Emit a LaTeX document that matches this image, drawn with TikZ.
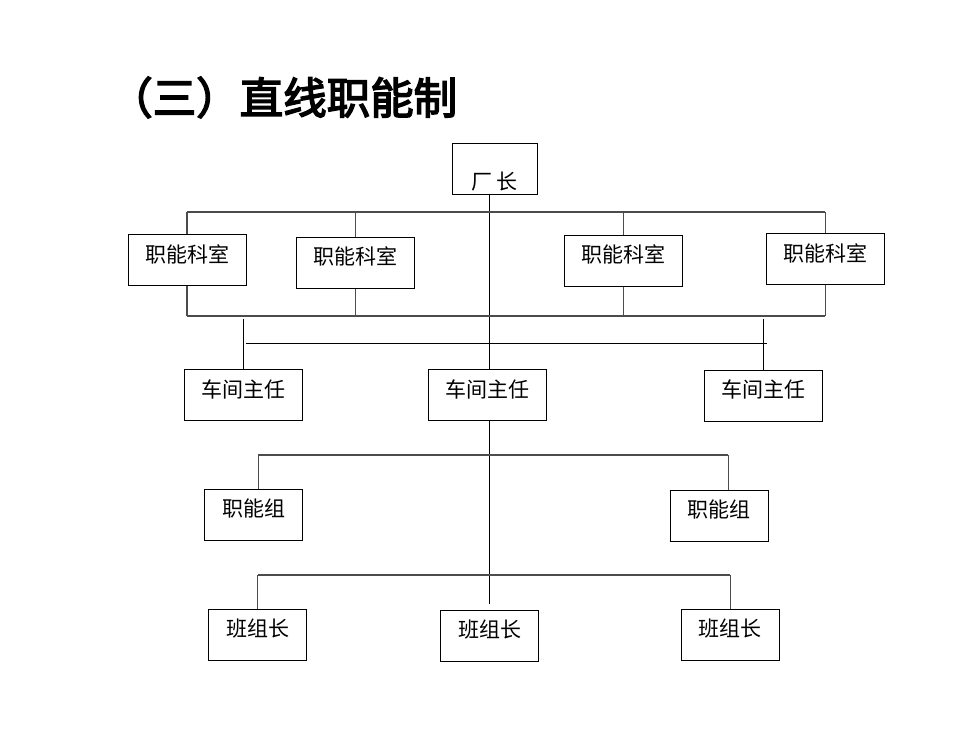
\documentclass[tikz,border=0pt]{standalone}
\usepackage{fontspec}
\newfontfamily\cjkfont{Noto Sans CJK SC}
\newfontfamily\titlefont[FakeBold=3.5]{Noto Sans CJK SC}

\tikzset{
  unit/.style={draw, line width=1pt, inner sep=0pt, minimum height=51pt,
    text height=14pt, text depth=10pt, font=\cjkfont\fontsize{21}{21}\selectfont},
  bus/.style={line width=1.1pt, draw=black!70},
  stem/.style={line width=1pt, draw=black},
}

\begin{document}
\begin{tikzpicture}[x=1pt,y=-1pt]

    % --- Page frame ---
    \useasboundingbox (0,0) rectangle (980,735);

    % --- Title ---
    \node[anchor=base west, inner sep=0pt, font=\titlefont\fontsize{43.5}{43.5}\selectfont] (title) at (109,114) {（三）直线职能制};

    % --- Define Coordinates ---
    % spine is the x of the main vertical line
    \coordinate (spine) at (489.3,195);
    \coordinate (spineEnd) at (489.3,604);

    % levels of the horizontal lines
    \coordinate (busA) at (0,212);
    \coordinate (busB) at (0,316);
    \coordinate (feed) at (0,319.5);
    \coordinate (cross) at (0,343.3);
    \coordinate (grpL) at (258.3,455);
    \coordinate (grpR) at (728.3,455);
    \coordinate (teamBus) at (0,575);

    % --- Place Boxes ---

    % Director at the top
    \node[unit, minimum width=85pt, text height=40pt, text depth=0pt] (head) at (494.5,169.5) {厂 长};

    % Functional offices
    \node[unit, minimum width=118pt] (office1) at (187,260.5) {职能科室};
    \node[unit, minimum width=118pt] (office2) at (355.2,262.8) {职能科室};
    \node[unit, minimum width=118pt] (office3) at (623.3,260.7) {职能科室};
    \node[unit, minimum width=118pt] (office4) at (825.2,259.2) {职能科室};

    % Workshop heads
    \node[unit, minimum width=118pt] (shop1) at (243.9,395) {车间主任};
    \node[unit, minimum width=118pt] (shop2) at (487,395.2) {车间主任};
    \node[unit, minimum width=118pt] (shop3) at (763.3,395.5) {车间主任};

    % Functional groups
    \node[unit, minimum width=98pt] (group1) at (253.5,514.7) {职能组};
    \node[unit, minimum width=98pt] (group2) at (719.2,515.8) {职能组};

    % Team leaders
    \node[unit, minimum width=98pt] (team1) at (257.5,634.7) {班组长};
    \node[unit, minimum width=98pt] (team2) at (489.7,635.5) {班组长};
    \node[unit, minimum width=98pt] (team3) at (730.3,634.7) {班组长};

    % --- Draw Lines ---

    % Main vertical line
    \draw[stem] (spine |- head.south) -- (spine |- shop2.north);
    \draw[stem] (spine |- shop2.south) -- (spineEnd);

    % Bus above and below the offices
    \draw[bus] (office1.north |- busA) -- (office4.north |- busA);
    \draw[bus] (office1.south |- busB) -- (office4.south |- busB);
    \foreach \n in {office1,office2,office3,office4} {
        \draw[bus] (\n.north) -- (\n.north |- busA);
        \draw[bus] (\n.south) -- (\n.south |- busB);
    }

    % Line across to the workshop heads
    \draw[stem] (shop1.north |- feed) -- (shop1.north);
    \draw[stem] (shop3.north |- feed) -- (shop3.north);
    \draw[stem] ([xshift=2pt]shop1.north |- cross) -- ([xshift=4pt]shop3.north |- cross);

    % Bus to the functional groups
    \draw[bus] (grpL) -- (grpR);
    \draw[bus] (grpL) -- (grpL |- group1.north);
    \draw[bus] (grpR) -- (grpR |- group2.north);

    % Bus to the team leaders
    \draw[bus] (team1.north |- teamBus) -- (team3.north |- teamBus);
    \draw[bus] (team1.north |- teamBus) -- (team1.north);
    \draw[bus] (team3.north |- teamBus) -- (team3.north);

\end{tikzpicture}
\end{document}
